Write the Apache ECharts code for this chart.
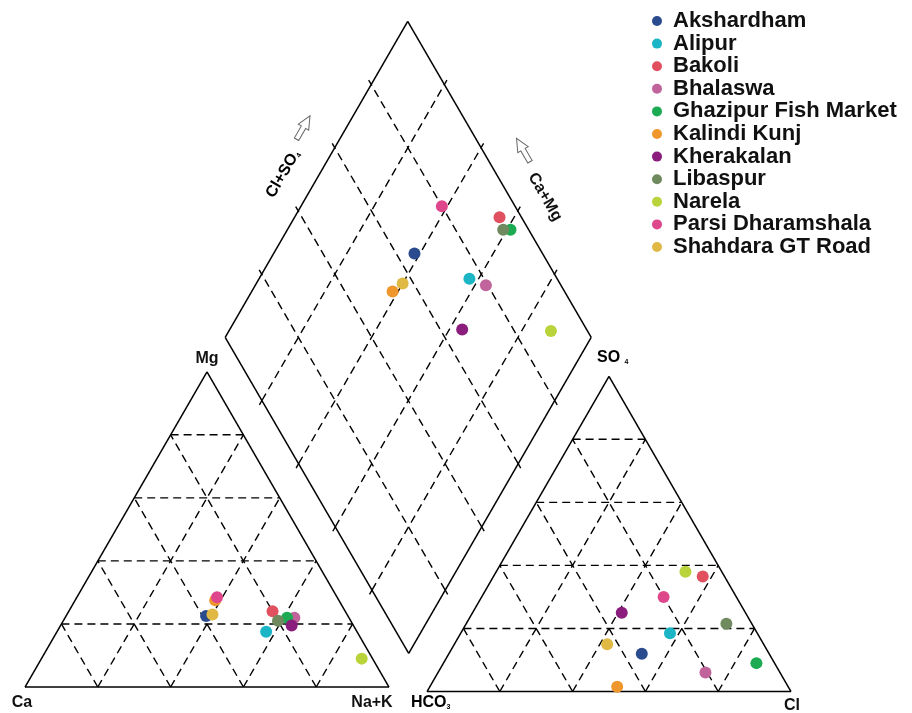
<!DOCTYPE html>
<html>
<head>
<meta charset="utf-8">
<script src="https://cdn.jsdelivr.net/npm/echarts@6/dist/echarts.min.js"></script>
<style>
  html, body { margin: 0; padding: 0; background: #fff; }
  #chart { width: 912px; height: 713px; }
</style>
</head>
<body>
<div id="chart"></div>
<script>
// Sampling sites
const sites = ['Akshardham', 'Alipur', 'Bakoli', 'Bhalaswa', 'Ghazipur Fish Market',
  'Kalindi Kunj', 'Kherakalan', 'Libaspur', 'Narela', 'Parsi Dharamshala', 'Shahdara GT Road'];
const siteColors = ['#2a4b8d', '#1bb5c6', '#e0505f', '#c0649b', '#1cab52',
  '#ef972c', '#8b1d7d', '#6f8a5f', '#b9d33b', '#df478d', '#e0b844'];

// Cations, % meq/L
const ca  = [39, 25, 20, 15, 17, 34, 17, 20, 3, 33, 37];
const mg  = [22.5, 17.5, 24, 22, 22, 27.5, 19.5, 21, 9, 28.5, 23];
const naK = [38.5, 57.5, 56, 63, 61, 38.5, 63.5, 59, 88, 38.5, 40];

// Anions, % meq/L
const hco3 = [35, 24, 6, 20.5, 5, 47, 34, 7, 10, 20, 43];
const so4  = [12, 18.5, 36.5, 6, 9, 1.5, 25, 21.5, 38, 30, 15];
const cl   = [53, 57.5, 57.5, 73.5, 86, 51.5, 41, 71.5, 52, 50, 42];

// Grid line levels (%)
const levels = [20, 40, 60, 80];

// ---- layout of the three fields (plot units = pixels) ----
const SIDE = 364;
const TRI_H = SIDE * Math.sqrt(3) / 2;
const catOrigin = [25, 687];      // Ca corner
const anOrigin = [427, 691.5];    // HCO3 corner
const dB = [408.7, 653.3];        // diamond bottom corner
const dR = [182.5, -316];         // bottom -> right corner
const dL = [-183.5, -316];        // bottom -> left corner

function ternary(origin, left, apex, right) {
  const s = left + apex + right;
  const a = apex / s, r = right / s;
  return [origin[0] + SIDE * (r + a / 2), origin[1] - TRI_H * a];
}
const catPt = (c, m, n) => ternary(catOrigin, c, m, n);
const anPt = (h, s, c) => ternary(anOrigin, h, s, c);
function diamondPt(anionFrac, cationFrac) {
  return [dB[0] + anionFrac * dR[0] + cationFrac * dL[0],
          dB[1] + anionFrac * dR[1] + cationFrac * dL[1]];
}

// ---- frame and grid segments ----
const frameSegs = [];
const gridSegs = [];
const tickSegs = [];
function seg(list, p, q) { list.push([p[0], p[1], q[0], q[1]]); }

function triangleFrame(pt) {
  const A = pt(100, 0, 0), B = pt(0, 0, 100), C = pt(0, 100, 0);
  seg(frameSegs, A, B); seg(frameSegs, B, C); seg(frameSegs, C, A);
  levels.forEach(k => {
    seg(gridSegs, pt(100 - k, k, 0), pt(0, k, 100 - k));
    seg(gridSegs, pt(k, 0, 100 - k), pt(k, 100 - k, 0));
    seg(gridSegs, pt(100 - k, 0, k), pt(0, 100 - k, k));
  });
}
triangleFrame(catPt);
triangleFrame(anPt);

const dTop = diamondPt(1, 1), dLeft = diamondPt(0, 1), dRight = diamondPt(1, 0), dBot = diamondPt(0, 0);
seg(frameSegs, dBot, dRight); seg(frameSegs, dRight, dTop);
seg(frameSegs, dTop, dLeft); seg(frameSegs, dLeft, dBot);
function addTicks(p, q) {
  const dx = q[0] - p[0], dy = q[1] - p[1];
  const len = Math.hypot(dx, dy), ux = dx / len * 5, uy = dy / len * 5;
  seg(tickSegs, [p[0] - ux, p[1] - uy], p);
  seg(tickSegs, q, [q[0] + ux, q[1] + uy]);
}
levels.forEach(k => {
  const t = k / 100;
  const p1 = diamondPt(t, 0), q1 = diamondPt(t, 1);
  const p2 = diamondPt(0, t), q2 = diamondPt(1, t);
  seg(gridSegs, p1, q1); seg(gridSegs, p2, q2);
  addTicks(p1, q1); addTicks(p2, q2);
});

function segSeries(data, style) {
  return {
    type: 'custom', silent: true, data: data, z: 1,
    renderItem: function (params, api) {
      const p = api.coord([api.value(0), api.value(1)]);
      const q = api.coord([api.value(2), api.value(3)]);
      return { type: 'line', shape: { x1: p[0], y1: p[1], x2: q[0], y2: q[1] }, style: style };
    }
  };
}

// ---- sample points: cation triangle, anion triangle, diamond ----
const pointSeries = sites.map((name, i) => {
  const cs = ca[i] + mg[i] + naK[i];
  const as = hco3[i] + so4[i] + cl[i];
  return {
    name: name, type: 'scatter', symbolSize: 12, z: 3,
    itemStyle: { color: siteColors[i], opacity: 1 },
    data: [
      catPt(ca[i], mg[i], naK[i]),
      anPt(hco3[i], so4[i], cl[i]),
      diamondPt((so4[i] + cl[i]) / as, (ca[i] + mg[i]) / cs)
    ]
  };
});

const FONT = '"Liberation Sans", Arial, Helvetica, sans-serif';
const labelStyle = (extra) => Object.assign({
  fontFamily: FONT, fontWeight: 'bold', fontSize: 16, fill: '#111'
}, extra);
const subRich = {
  t: { fontFamily: FONT, fontWeight: 'bold', fontSize: 16, color: '#111', lineHeight: 16 },
  s: { fontFamily: FONT, fontWeight: 'bold', fontSize: 7, color: '#111', lineHeight: 6, verticalAlign: 'bottom' }
};
const arrowShape = [[-2.5, 13], [2.5, 13], [2.5, -1], [6, -1], [0, -14], [-6, -1], [-2.5, -1]];

const chart = echarts.init(document.getElementById('chart'), null, { renderer: 'canvas' });
chart.setOption({
  animation: false,
  backgroundColor: '#ffffff',
  grid: { left: 0, right: 0, top: 0, bottom: 0 },
  xAxis: { type: 'value', min: 0, max: 912, show: false },
  yAxis: { type: 'value', min: 0, max: 713, inverse: true, show: false },
  legend: {
    data: sites, orient: 'vertical', left: 647, top: 5,
    icon: 'circle', itemWidth: 10, itemHeight: 10, itemGap: 0.6,
    textStyle: { fontFamily: FONT, fontWeight: 'bold', fontSize: 22, color: '#111',
      lineHeight: 22, padding: [0, 0, 0, 6] },
    selectedMode: false
  },
  graphic: [
    { type: 'text', x: 207, y: 359, style: labelStyle({ text: 'Mg', align: 'center', verticalAlign: 'middle' }) },
    { type: 'text', x: 22, y: 703, style: labelStyle({ text: 'Ca', align: 'center', verticalAlign: 'middle' }) },
    { type: 'text', x: 372, y: 703, style: labelStyle({ text: 'Na+K', align: 'center', verticalAlign: 'middle' }) },
    { type: 'text', x: 411, y: 703, style: { text: '{t|HCO}{s|3}', rich: subRich, align: 'left', verticalAlign: 'middle' } },
    { type: 'text', x: 792, y: 706, style: labelStyle({ text: 'Cl', align: 'center', verticalAlign: 'middle' }) },
    { type: 'text', x: 597, y: 358, style: { text: '{t|SO }{s|4}', rich: subRich, align: 'left', verticalAlign: 'middle' } },
    { type: 'text', x: 283, y: 174, rotation: Math.PI / 3,
      style: { text: '{t|Cl+SO}{s|4}', rich: subRich, align: 'center', verticalAlign: 'middle' } },
    { type: 'text', x: 545, y: 197, rotation: -Math.PI / 3,
      style: labelStyle({ text: 'Ca+Mg', align: 'center', verticalAlign: 'middle' }) },
    { type: 'polygon', x: 303, y: 128, rotation: -Math.PI / 6,
      shape: { points: arrowShape }, style: { fill: '#fff', stroke: '#666', lineWidth: 1 } },
    { type: 'polygon', x: 523.5, y: 150.5, rotation: Math.PI / 6,
      shape: { points: arrowShape }, style: { fill: '#fff', stroke: '#666', lineWidth: 1 } }
  ],
  series: [
    segSeries(gridSegs, { stroke: '#000', lineWidth: 1.4, lineDash: [8, 5] }),
    segSeries(tickSegs, { stroke: '#000', lineWidth: 1.4 }),
    segSeries(frameSegs, { stroke: '#000', lineWidth: 1.5 })
  ].concat(pointSeries)
});
</script>
</body>
</html>
